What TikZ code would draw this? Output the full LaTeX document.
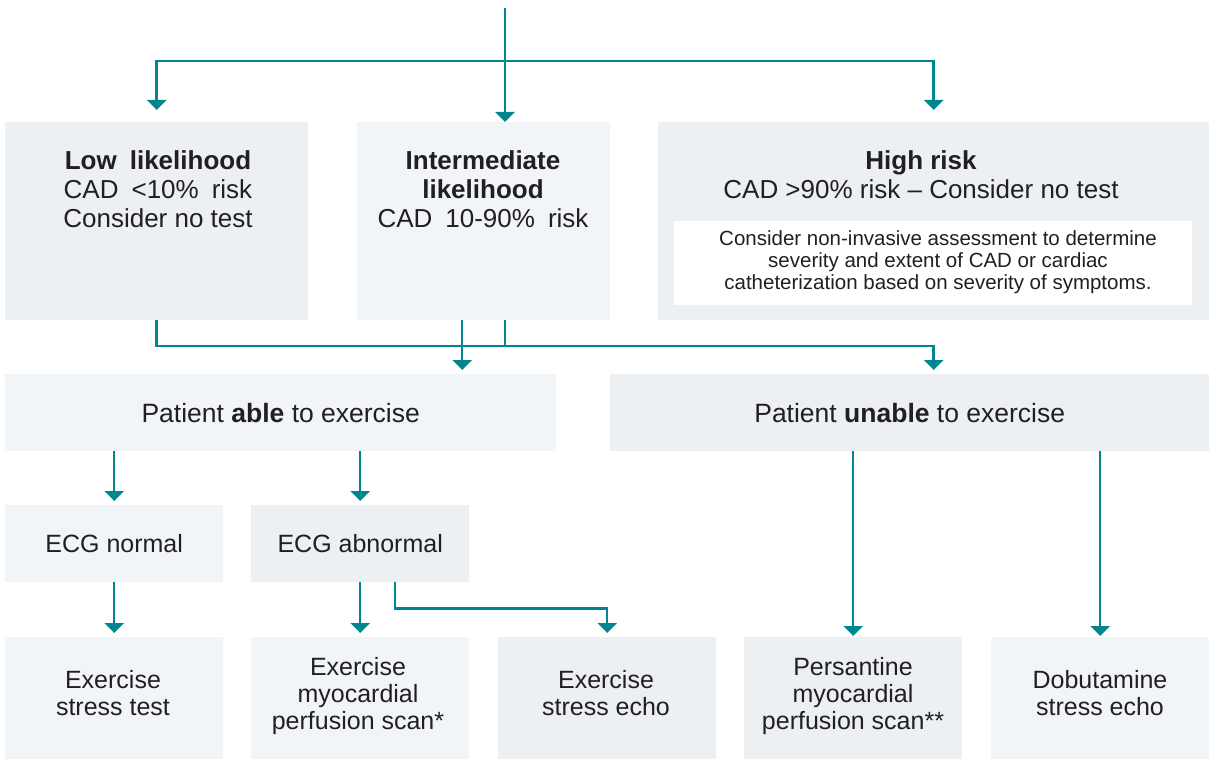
\documentclass[tikz,border=0pt]{standalone}
\usepackage{fontspec}
\setmainfont{Liberation Sans}
\usetikzlibrary{arrows.meta,calc}
\definecolor{teal0}{RGB}{0,134,143}
\definecolor{boxA}{RGB}{236,240,243}
\definecolor{boxB}{RGB}{242,245,248}
\definecolor{ink}{RGB}{35,31,32}
\newcommand\fontRowA{\fontsize{26}{29}\selectfont}
\newcommand\fontRowB{\fontsize{26.5}{29}\selectfont}
\newcommand\fontRowC{\fontsize{25}{28}\selectfont}
\newcommand\fontRowD{\fontsize{25}{27}\selectfont}
\newcommand\fontNote{\fontsize{20.5}{22}\selectfont}
\newcommand\wsp{\hspace{0.5em}}
\begin{document}
\begin{tikzpicture}[x=1pt,y=-1pt,
  box/.style={fill=#1, draw=none, inner sep=0pt, anchor=north west, text=ink, align=center},
  txt/.style={inner sep=0pt, align=center, anchor=north, text=ink},
  conn/.style={draw=teal0, line width=2.5pt},
  arr/.style={conn, -{Triangle[width=19pt,length=10pt]}},
]
\useasboundingbox (0,0) rectangle (1209,759);

% row 1
\node[box=boxA, minimum width=303pt, minimum height=198pt] (low) at (5,122) {};
\node[box=boxB, minimum width=253pt, minimum height=198pt] (inter) at (357,122) {};
\node[box=boxA, minimum width=551pt, minimum height=198pt] (high) at (658,122) {};
\node[box=white, minimum width=518pt, minimum height=84pt] (note) at (674,221) {};

\node[txt, font=\fontRowA] (lowt) at (158,150) {\textbf{Low\wsp likelihood}\\CAD\wsp <10\%\wsp risk\\Consider no test};
\node[txt, font=\fontRowA] (intert) at (483,150) {\textbf{Intermediate}\\\textbf{likelihood}\\CAD\wsp 10-90\%\wsp risk};
\node[txt, font=\fontRowA] (hight) at (921,150) {\textbf{High risk}\\CAD >90\% risk – Consider no test};
\node[txt, font=\fontNote] (notet) at (938,230) {Consider non-invasive assessment to determine\\severity and extent of CAD or cardiac\\catheterization based on severity of symptoms.};

% row 2
\node[box=boxB, minimum width=551pt, minimum height=77pt, font=\fontRowB] (able) at (5,374) {Patient \textbf{able} to exercise};
\node[box=boxA, minimum width=599pt, minimum height=77pt, font=\fontRowB] (unable) at (610,374) {Patient \textbf{unable} to exercise};

% row 3
\node[box=boxB, minimum width=218pt, minimum height=77pt, font=\fontRowC] (ecgn) at (5,505) {ECG normal};
\node[box=boxA, minimum width=218pt, minimum height=77pt, font=\fontRowC] (ecga) at (251,505) {ECG abnormal};

% row 4
\node[box=boxB, minimum width=218pt, minimum height=122pt] (est) at (5,637) {};
\node[box=boxB, minimum width=218pt, minimum height=122pt] (emp) at (251,637) {};
\node[box=boxA, minimum width=218pt, minimum height=122pt] (ese) at (498,637) {};
\node[box=boxA, minimum width=218pt, minimum height=122pt] (pers) at (744,637) {};
\node[box=boxB, minimum width=218pt, minimum height=122pt] (dob) at (991,637) {};

\node[txt, font=\fontRowD] (estt) at (113,670) {Exercise\\stress test};
\node[txt, font=\fontRowD] (empt) at (358,657) {Exercise\\myocardial\\perfusion scan*};
\node[txt, font=\fontRowD] (eset) at (606,670) {Exercise\\stress echo};
\node[txt, font=\fontRowD] (perst) at (853,657) {Persantine\\myocardial\\perfusion scan**};
\node[txt, font=\fontRowD] (dobt) at (1100,670) {Dobutamine\\stress echo};

% connectors from top
\coordinate (start) at (505,8);
\coordinate (j1) at (505,61);
\draw[conn] (start) -- (j1);
\draw[arr, shorten >=12pt] (j1) -| (low.north);
\draw[arr] (j1) -- (j1 |- inter.north);
\draw[arr, shorten >=12pt] (j1) -| (high.north);

% row 1 -> row 2
\coordinate (hy) at (0,346);
\coordinate (iL) at ([xshift=-21.5pt]inter.south);
\coordinate (iR) at ([xshift=21.5pt]inter.south);
\coordinate (ut) at (high.south |- unable.north);
\draw[arr, shorten >=4pt] (low.south) -- (low.south |- hy) -| (ut);
\draw[conn] (iR) -- (iR |- hy);
\draw[arr, shorten >=4pt] (iL) -- (iL |- able.north);

% row 2 -> row 3
\draw[arr, shorten >=4pt] (able.south -| ecgn.north) -- (ecgn.north);
\draw[arr, shorten >=4pt] (able.south -| ecga.north) -- (ecga.north);

% row 3 -> row 4
\coordinate (aR) at ([xshift=35pt]ecga.south);
\draw[arr, shorten >=4pt] (ecgn.south) -- (est.north);
\draw[arr, shorten >=4pt] (ecga.south) -- (emp.north);
\draw[arr, shorten >=4pt] (aR) -- ++(0,26) -| (ese.north);

% row 2 -> row 4 (unable)
\draw[arr, shorten >=1pt] (unable.south -| pers.north) -- (pers.north);
\draw[arr, shorten >=1pt] (unable.south -| dob.north) -- (dob.north);
\end{tikzpicture}
\end{document}
